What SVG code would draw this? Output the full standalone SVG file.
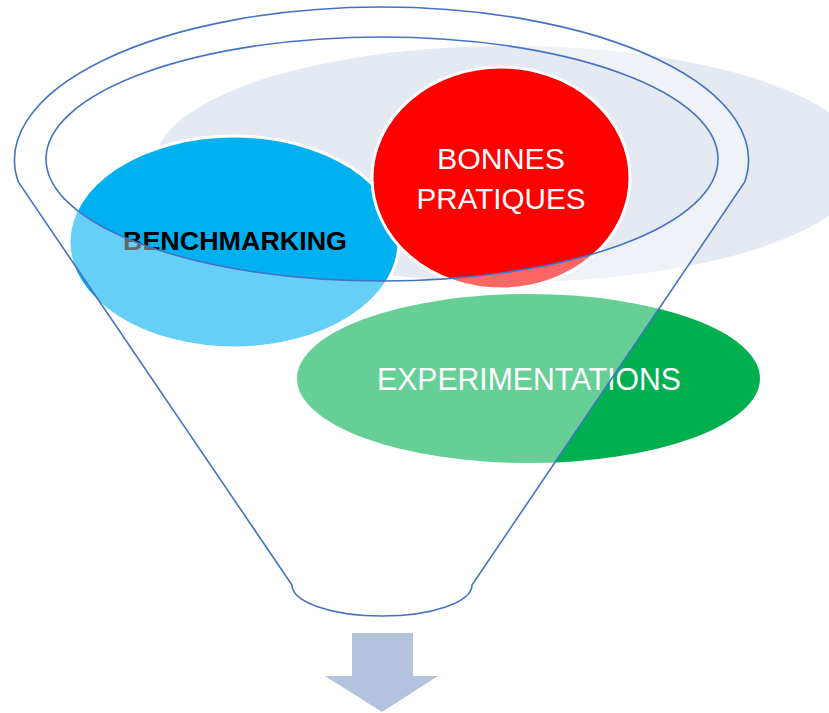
<svg xmlns="http://www.w3.org/2000/svg" width="829" height="713" viewBox="0 0 829 713">
<style>
.lbl{font-family:"Liberation Sans",Arial,sans-serif;text-anchor:middle}
.wt{fill:#ffffff}
.node{stroke:#ffffff;stroke-width:3}
.funnel{fill:#ffffff;fill-opacity:0.4;fill-rule:evenodd;stroke:#4472c4;stroke-width:1.6}
</style>
<rect width="829" height="713" fill="#ffffff"/>
<g id="backdrop">
<ellipse cx="510" cy="164" rx="355" ry="118" fill="#e4e9f2"/>
</g>
<g id="benchmarking">
<ellipse class="node" cx="234" cy="242" rx="165" ry="106" fill="#00b0f0"/>
<text class="lbl" x="235" y="250" font-size="26" font-weight="bold" fill="#000000" textLength="224" lengthAdjust="spacingAndGlyphs">BENCHMARKING</text>
</g>
<g id="bonnes-pratiques">
<ellipse class="node" cx="501" cy="178" rx="129" ry="111" fill="#ff0000"/>
<text class="lbl wt" x="501" y="168.5" font-size="30" textLength="128" lengthAdjust="spacingAndGlyphs">BONNES</text>
<text class="lbl wt" x="501" y="208.5" font-size="30" textLength="169" lengthAdjust="spacingAndGlyphs">PRATIQUES</text>
</g>
<g id="experimentations">
<ellipse cx="528.5" cy="378.5" rx="231.5" ry="84.5" fill="#00b050"/>
<text class="lbl wt" x="529" y="390" font-size="32" textLength="304" lengthAdjust="spacingAndGlyphs">EXPERIMENTATIONS</text>
</g>
<g id="funnel">
<path class="funnel" d="M18.3,182 A367,153 0 1 1 744.7,182 L472,585 A90,31 0 0 1 292,585 Z M46,159 A336,122 0 1 0 718,159 A336,122 0 1 0 46,159 Z"/>
</g>
<g id="connectors">
<polygon points="352,633 413,633 413,676 438,676 382,712 325,676 352,676" fill="#b3c3de"/>
</g>
</svg>
